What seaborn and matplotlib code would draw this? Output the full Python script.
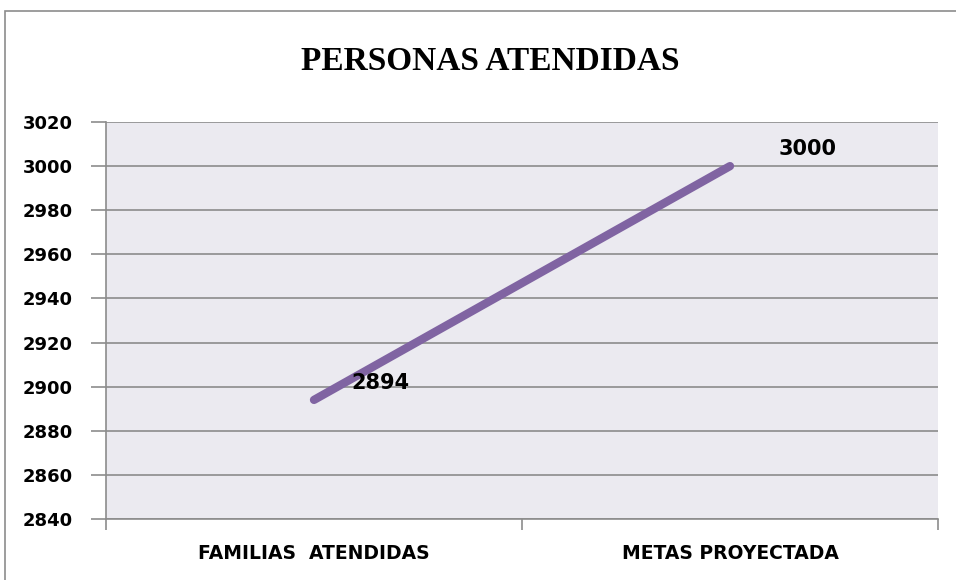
import matplotlib.pyplot as plt
import matplotlib.patches as mpatches
import seaborn as sns
import pandas as pd

# data
categories = ['FAMILIAS  ATENDIDAS', 'METAS PROYECTADA']
values = [2894, 3000]
y_ticks = [2840, 2860, 2880, 2900, 2920, 2940, 2960, 2980, 3000, 3020]

sns.set_style("whitegrid", {
    "axes.facecolor": "#EBEAF0",
    "grid.color": "#8C8C8C",
    "axes.edgecolor": "#8C8C8C",
    "text.color": "black",
    "xtick.color": "black",
    "ytick.color": "black",
})
plt.rcParams['font.family'] = ['DejaVu Sans']

df = pd.DataFrame({'cat': [0, 1], 'val': values})

fig = plt.figure(figsize=(9.56, 5.8), dpi=100)
ax = fig.add_axes([106 / 956, 61 / 580, 832 / 956, 397 / 580])

# outer chart border
fig.patches.append(mpatches.Rectangle((5 / 956, -0.05), 1.0, 1.05 - 11 / 580,
                                      transform=fig.transFigure, fill=False,
                                      edgecolor='#8C8C8C', linewidth=1.2))

sns.lineplot(data=df, x='cat', y='val', ax=ax, color='#8064A2',
             linewidth=6, solid_capstyle='round')

ax.set_xlim(-0.5, 1.5)
ax.set_ylim(2840, 3020)
ax.set_yticks(y_ticks)
ax.set_yticklabels([str(t) for t in y_ticks], fontsize=13, fontweight='bold')
ax.grid(axis='x', visible=False)
ax.grid(axis='y', linewidth=1.2)

# category ticks sit between groups
ax.set_xticks([-0.5, 0.5, 1.5])
ax.set_xticklabels([])
ax.set_xticks([0, 1], minor=True)
ax.set_xticklabels(categories, minor=True, fontsize=13.5, fontweight='bold')
ax.tick_params(axis='x', which='minor', length=0, pad=18)
ax.tick_params(axis='x', which='major', length=8, width=1.2, color='#8C8C8C', direction='out')
ax.tick_params(axis='y', length=11, width=1.2, color='#8C8C8C', direction='out', pad=13)
ax.tick_params(bottom=True, left=True)
ax.set_xlabel('')
ax.set_ylabel('')

for s in ['top', 'right']:
    ax.spines[s].set_visible(False)
ax.spines['left'].set_linewidth(1.2)
ax.spines['bottom'].set_linewidth(1.2)

# data labels
ax.annotate(str(values[0]), (0, values[0]), xytext=(27, 12), textcoords='offset points',
            fontsize=15, fontweight='bold', ha='left', va='center', color='black')
ax.annotate(str(values[1]), (1, values[1]), xytext=(35, 12), textcoords='offset points',
            fontsize=15, fontweight='bold', ha='left', va='center', color='black')

fig.text(490 / 956, 1 - 62 / 580, 'PERSONAS ATENDIDAS', ha='center', va='center',
         fontsize=24, fontweight='bold', family='Liberation Serif', stretch='condensed',
         color='black')

plt.savefig('out.png', dpi=100)
